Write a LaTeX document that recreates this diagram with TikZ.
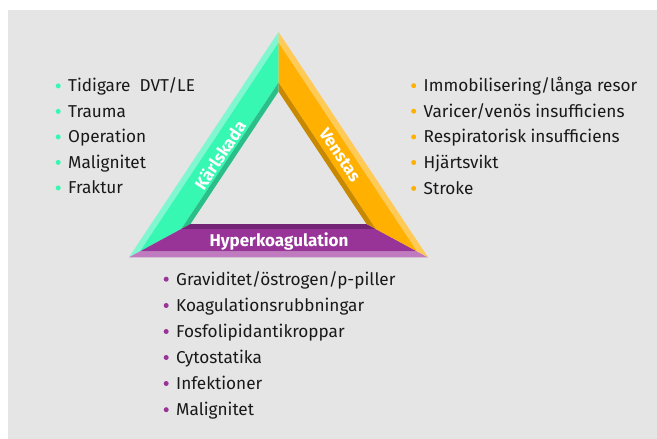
\documentclass[tikz,border=0pt]{standalone}
\usepackage{fontspec}
\setmainfont{Fira Sans}
\usetikzlibrary{calc}
\definecolor{bggray}{RGB}{229,229,229}
\definecolor{gmain}{RGB}{55,248,178}
\definecolor{glight}{RGB}{128,247,208}
\definecolor{gdark}{RGB}{42,190,136}
\definecolor{omain}{RGB}{255,176,0}
\definecolor{olight}{RGB}{255,202,85}
\definecolor{odark}{RGB}{200,136,0}
\definecolor{pmain}{RGB}{152,52,152}
\definecolor{plight}{RGB}{192,122,192}
\definecolor{pdark}{RGB}{116,36,116}
\definecolor{txt}{RGB}{25,25,25}
\newcommand\listentry[5]{%
  \node[entry, anchor=base west] (#1) at (#2,#3) {#5};
  \fill[#4] ($(#1.base west)+(-9.8,-5.8)$) circle (2.5);
}
\begin{document}
\begin{tikzpicture}[x=1pt,y=-1pt,
  entry/.style={inner sep=0pt, text=txt, font=\fontsize{17.2}{20}\selectfont},
  bandlabel/.style={inner sep=0pt, text=white, font=\bfseries\fontsize{17}{19}\selectfont}]
\useasboundingbox (0,0) rectangle (657,439);
\fill[bggray] (8,10) rectangle (657,439);
% outer and inner triangle
\coordinate (A) at (278.5,32);
\coordinate (B) at (129,257.3);
\coordinate (C) at (428,257.3);
\coordinate (a) at (278.5,91.5);
\coordinate (b) at (190.5,224);
\coordinate (c) at (366.5,224);
\foreach \p/\q in {A/a,B/b,C/c}{
  \coordinate (\p1) at ($(\p)!0.18!(\q)$);
  \coordinate (\p2) at ($(\p)!0.85!(\q)$);
}
% green band (Kärlskada)
\fill[glight] (A) -- (B) -- (B1) -- (A1) -- cycle;
\fill[gmain] (A1) -- (B1) -- (B2) -- (A2) -- cycle;
\fill[gdark] (A2) -- (B2) -- (b) -- (a) -- cycle;
% purple band (Hyperkoagulation)
\fill[plight] (B) -- (C) -- (C1) -- (B1) -- cycle;
\fill[pmain] (B1) -- (C1) -- (C2) -- (B2) -- cycle;
\fill[pdark] (B2) -- (C2) -- (c) -- (b) -- cycle;
% orange band (Venstas)
\fill[olight] (C) -- (A) -- (A1) -- (C1) -- cycle;
\fill[omain] (C1) -- (A1) -- (A2) -- (C2) -- cycle;
\fill[odark] (C2) -- (A2) -- (a) -- (c) -- cycle;
% band labels
\node[bandlabel, rotate=56.3] (karl) at (220,155) {Kärlskada};
\node[bandlabel, rotate=-56.3] (ven) at (340,155) {Venstas};
\node[bandlabel, anchor=base] (hyp) at (279,246) {Hyperkoagulation};
% left list
\listentry{l1}{68}{91.7}{gmain}{Tidigare\ \ DVT/LE}
\listentry{l2}{68}{117.2}{gmain}{Trauma}
\listentry{l3}{68}{142.7}{gmain}{Operation}
\listentry{l4}{68}{168.2}{gmain}{Malignitet}
\listentry{l5}{68}{193.7}{gmain}{Fraktur}
% right list
\listentry{r1}{423.5}{91.5}{omain}{Immobilisering/långa resor}
\listentry{r2}{423.5}{117}{omain}{Varicer/venös insufficiens}
\listentry{r3}{423.5}{142.7}{omain}{Respiratorisk insufficiens}
\listentry{r4}{423.5}{168.3}{omain}{Hjärtsvikt}
\listentry{r5}{423.5}{194.2}{omain}{Stroke}
% bottom list
\listentry{b1}{176}{285}{pmain}{Graviditet/östrogen/p-piller}
\listentry{b2}{176}{311.3}{pmain}{Koagulationsrubbningar}
\listentry{b3}{176}{337.3}{pmain}{Fosfolipidantikroppar}
\listentry{b4}{176}{363.3}{pmain}{Cytostatika}
\listentry{b5}{176}{389.3}{pmain}{Infektioner}
\listentry{b6}{176}{415.5}{pmain}{Malignitet}
\end{tikzpicture}
\end{document}
